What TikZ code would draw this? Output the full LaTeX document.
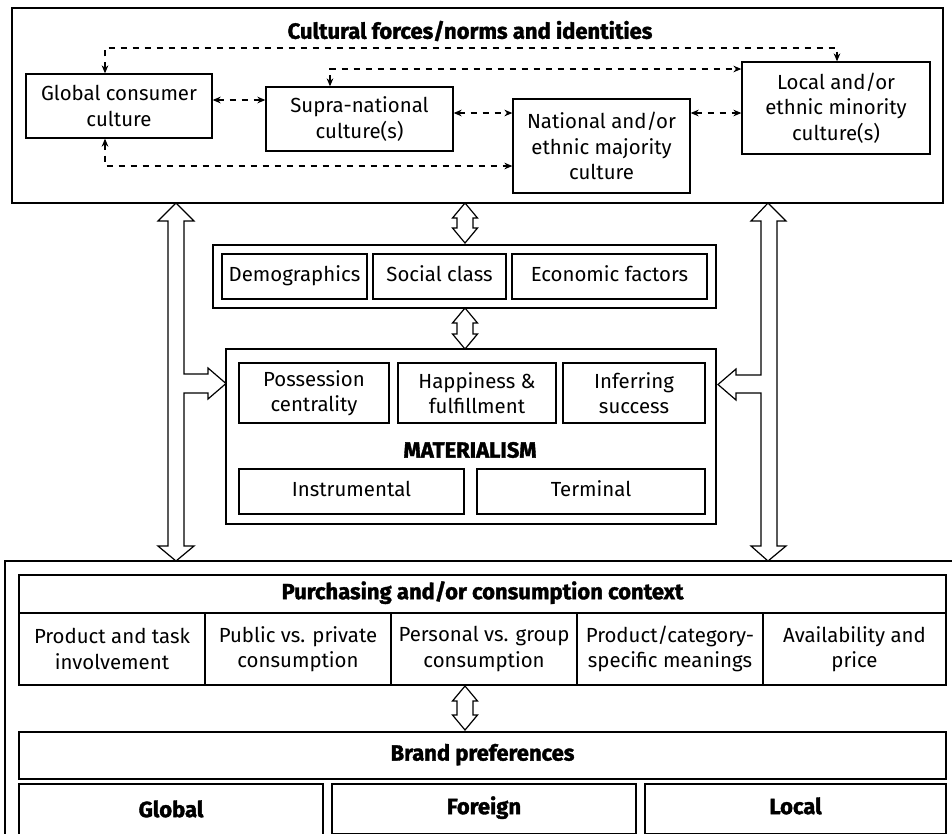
\documentclass[tikz,border=0pt]{standalone}
\usepackage{fontspec}
\setmainfont{Fira Sans}[BoldFeatures={FakeBold=1.6}]
\usetikzlibrary{arrows.meta,calc}
\newcommand\bodyfnt{\fontsize{15.3}{19}\selectfont}
\newcommand\ttlfnt{\bfseries\fontsize{16.5}{19}\selectfont}
\newcommand\bx[7][box]{\node[#1, minimum width={(#5-#3)*0.75pt}, minimum height={(#6-#4)*0.75pt}] (#2) at ({(#3+#5)/2},{(#4+#6)/2}) {#7};}
\begin{document}
\begin{tikzpicture}[x=0.75pt,y=-0.75pt,
  box/.style={draw, line width=1pt, inner sep=0pt, align=center, font=\bodyfnt},
  tbox/.style={box, font=\ttlfnt},
  frame/.style={draw, line width=1pt, inner sep=0pt},
  dl/.style={dashed, dash pattern=on 5pt off 4pt, line width=0.8pt, {Stealth[length=6pt,width=5pt]}-{Stealth[length=6pt,width=5pt]}},
  hollow/.style={draw, line width=0.9pt, fill=white, line join=miter}]
\clip (0,0) rectangle (952,833);
% ---------- top section ----------
\bx[frame]{topf}{12}{8}{943}{203}{}
\node[font=\ttlfnt] (title) at (470,31) {Cultural forces/norms and identities};
\bx{glob}{26}{74}{212}{138}{Global consumer\\culture}
\bx{sup}{266}{87}{453}{151}{Supra-national\\culture(s)}
\bx{nat}{513}{99}{690}{193}{National and/or\\ethnic majority\\culture}
\bx{loc}{742}{62}{930}{154}{Local and/or\\ethnic minority\\culture(s)}
\coordinate (d1) at (105,48);
\coordinate (d2) at (837,48);
\coordinate (d3) at (330,69);
\coordinate (d4) at (105,166);
\coordinate (y100) at (0,100);
\coordinate (y113) at (0,113);
\draw[dl] (glob.north -| d1) -- (d1) -- (d2) -- (loc.north -| d2);
\draw[dl] (sup.north -| d3) |- (loc.west |- d3);
\draw[dl] (glob.east |- y100) -- (sup.west |- y100);
\draw[dl] (sup.east |- y113) -- (nat.west |- y113);
\draw[dl] (nat.east |- y113) -- (loc.west |- y113);
\draw[dl] (glob.south -| d4) |- (nat.west |- d4);
% ---------- middle ----------
\bx[frame]{socf}{213}{245}{716}{308}{}
\bx{demo}{222}{254}{367}{299}{\strut Demographics}
\bx{soc}{373}{254}{506}{299}{\strut Social class}
\bx{eco}{512}{254}{707}{299}{\strut Economic factors}
\bx[frame]{matf}{226}{349}{716}{524}{}
\bx{poss}{239}{363}{389}{423}{Possession\\centrality}
\bx{happ}{398}{363}{556}{423}{Happiness \&\\fulfillment}
\bx{inf}{563}{363}{705}{423}{Inferring\\success}
\node[font=\ttlfnt] (mat) at (470,450) {MATERIALISM};
\bx{instr}{239}{469}{464}{514}{\strut Instrumental}
\bx{term}{477}{469}{705}{514}{\strut Terminal}
% ---------- bottom ----------
\bx[frame]{botf}{5}{561}{970}{860}{}
\bx[tbox]{purch}{19}{575}{946}{613}{\strut Purchasing and/or consumption context}
\bx{c1}{19}{613}{205}{685}{Product and task\\involvement}
\bx{c2}{205}{613}{391}{685}{Public vs. private\\consumption}
\bx{c3}{391}{613}{577}{685}{Personal vs. group\\consumption}
\bx{c4}{577}{613}{763}{685}{Product/category-\\specific meanings}
\bx{c5}{763}{613}{946}{685}{Availability and\\price}
\bx[tbox]{brand}{19}{732}{946}{779}{\strut Brand preferences}
\bx[tbox]{gl}{19}{784}{323}{840}{\strut Global}
\bx[tbox]{fo}{332}{784}{636}{834}{\strut Foreign}
\bx[tbox]{lo}{645}{784}{946}{834}{\strut Local}
% ---------- big hollow arrows ----------
\draw[hollow] (176,203) -- (194,221) -- (184,221) -- (184,374) -- (208,374) -- (208,368)
  -- (226,383.5) -- (208,399) -- (208,393) -- (184,393) -- (184,546) -- (194,546)
  -- (176,561) -- (158,546) -- (168,546) -- (168,221) -- (158,221) -- cycle;
\draw[hollow] (768,203) -- (786,221) -- (777,221) -- (777,546) -- (786,546) -- (768,561)
  -- (751,546) -- (761,546) -- (761,393) -- (736,393) -- (736,400) -- (718,384.5)
  -- (736,369) -- (736,375) -- (761,375) -- (761,221) -- (751,221) -- cycle;
% ---------- small double arrows ----------
\foreach \a/\b in {203/243, 308/349, 686/730} {
  \draw[hollow] (465,\a) -- (477.5,{\a+15}) -- (473,{\a+15}) -- (473,{\b-15}) -- (477.5,{\b-15})
    -- (465,\b) -- (452.5,{\b-15}) -- (457,{\b-15}) -- (457,{\a+15}) -- (452.5,{\a+15}) -- cycle;
}
\end{tikzpicture}
\end{document}
